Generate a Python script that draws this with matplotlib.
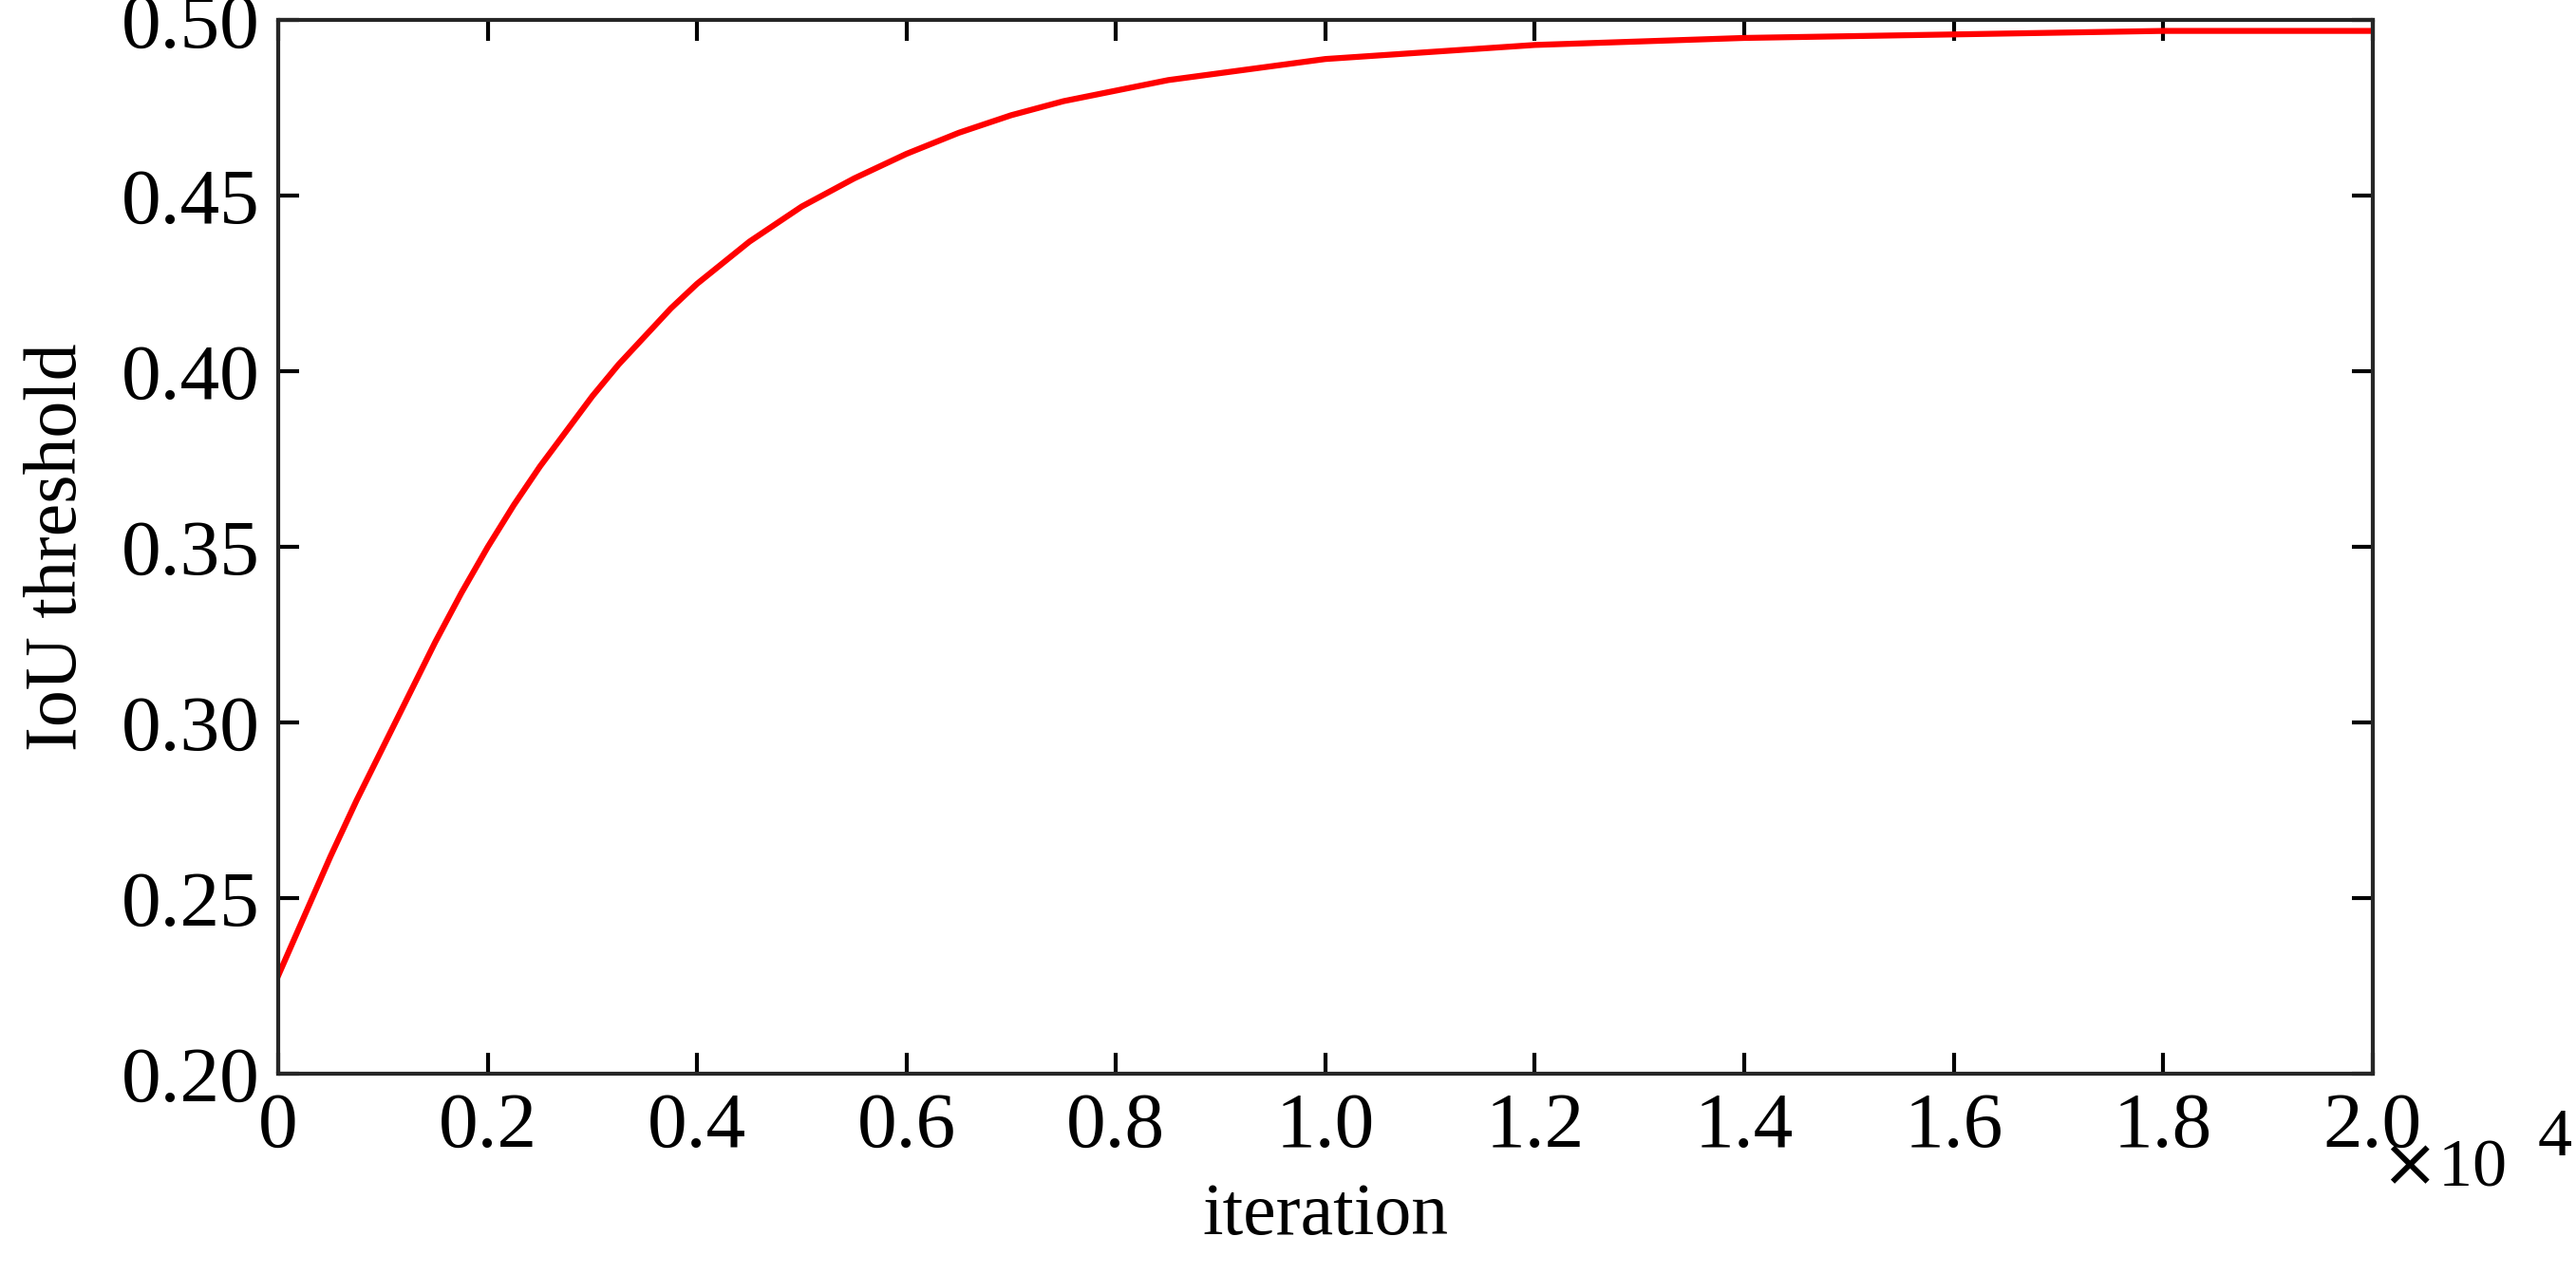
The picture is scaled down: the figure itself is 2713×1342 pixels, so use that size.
import matplotlib
matplotlib.use("Agg")
import matplotlib.pyplot as plt

iteration = [0, 0.025, 0.05, 0.075, 0.1, 0.125, 0.15, 0.175, 0.2, 0.225, 0.25, 0.275, 0.3, 0.325, 0.35, 0.375, 0.4,
             0.45, 0.5, 0.55, 0.6, 0.65, 0.7, 0.75, 0.8, 0.85, 0.9, 0.95, 1.0, 1.1, 1.2, 1.3, 1.4, 1.6, 1.8, 2.0]
iou = [0.228, 0.245, 0.262, 0.278, 0.293, 0.308, 0.323, 0.337, 0.350, 0.362, 0.373, 0.383, 0.393, 0.402, 0.410, 0.418, 0.425,
       0.437, 0.447, 0.455, 0.462, 0.468, 0.473, 0.477, 0.480, 0.483, 0.485, 0.487, 0.489, 0.491, 0.493, 0.494, 0.495, 0.496, 0.497, 0.497]
xticks = [0, 0.2, 0.4, 0.6, 0.8, 1.0, 1.2, 1.4, 1.6, 1.8, 2.0]
yticks = [0.20, 0.25, 0.30, 0.35, 0.40, 0.45, 0.50]

plt.rcParams['font.family'] = ['Liberation Serif', 'DejaVu Serif']
fig = plt.figure(figsize=(27.13, 13.42), dpi=100)
ax = fig.add_axes([0.108, 0.157, 0.813, 0.827])
ax.plot(iteration, iou, color='red', lw=4.5)
ax.set_xlim(0, 2.0)
ax.set_ylim(0.20, 0.50)
ax.set_xticks(xticks)
ax.set_xticklabels([f"{v:.1f}" if v else "0" for v in xticks])
ax.set_yticks(yticks)
ax.set_yticklabels([f"{v:.2f}" for v in yticks])
ax.tick_params(direction='in', length=16, width=3, labelsize=60, top=True, right=True, pad=14)
for s in ax.spines.values():
    s.set_linewidth(3)
    s.set_color('#262626')
ax.set_xlabel('iteration', fontsize=56, labelpad=14)
ax.set_ylabel('IoU threshold', fontsize=56, labelpad=22)
fig.text(0.924, 0.083, r'$\times$10', fontsize=52, ha='left', va='center')
fig.text(0.985, 0.106, '4', fontsize=52, ha='left', va='center')
fig.savefig('out.png', dpi=100)
